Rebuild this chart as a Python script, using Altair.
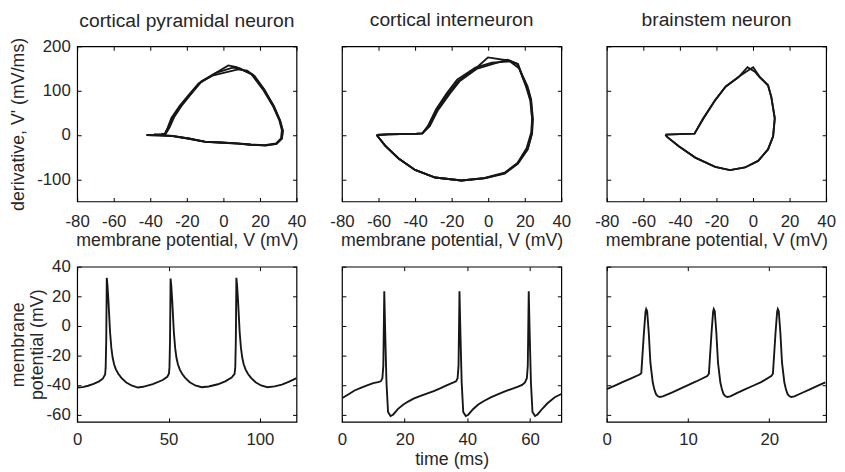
import altair as alt
import pandas as pd

FONT = "Liberation Sans"
TXT = "#262626"
LINE = "#161616"

panel_titles = ["cortical pyramidal neuron", "cortical interneuron", "brainstem neuron"]
phase_x_ticks = [-80, -60, -40, -20, 0, 20, 40]
phase_y_ticks = [-100, 0, 100, 200]
time_y_ticks = [-60, -40, -20, 0, 20, 40]
time_x_ticks = [[0, 50, 100], [0, 20, 40, 60], [0, 10, 20]]
time_x_max = [120, 70, 27]

# ---- phase plots: V (mV) and dV/dt (mV/ms), several overlapping cycles ----
pyr_v_a = [-42, -38, -34, -32, -30, -27.9, -23.4, -18.9, -12.6, -5.4, 2.7, 7.2, 15.3, 21.6, 27, 30.6, 32, 31.5, 28.8, 22.5, 15, 8.1, -1, -9.9, -18.9, -27.9, -35, -42]
pyr_d_a = [0, 0.5, 1.5, 3, 18, 40, 66, 88.5, 118, 137, 157, 153, 137, 103, 66, 33, 10.5, -8, -19, -23, -21.5, -19, -17, -15.5, -8, -2, -0.5, 0]
pyr_v_b = [-42, -38, -34, -31.5, -29.5, -27, -22.5, -18, -12, -4, 5, 9, 16, 22, 27.5, 31, 32.5, 32, 29, 23, 15, 8, -1, -10, -19, -28, -35, -42]
pyr_d_b = [0, 0.5, 1.5, 3, 17, 40, 68, 91, 121, 140, 152, 150, 136, 103, 66, 33, 10, -8, -20, -24, -22, -19.5, -17.5, -15.5, -8.5, -2.5, -0.5, 0]
pyr_v_c = [-42, -38, -34, -32, -30.5, -28.5, -24, -19.5, -13.5, -6, 8, 13, 17, 22.5, 27.5, 31, 32.5, 32, 29, 23, 15, 8, -1, -10, -19, -28, -35, -42]
pyr_d_c = [0, 0.5, 1.5, 3, 16, 38, 65, 88, 117, 134, 148, 145, 133, 102, 65, 32, 10, -8, -20, -23.5, -22, -19.5, -17, -15, -8, -2, -0.5, 0]

int_v_a = [-61, -55, -48, -42, -36, -32.8, -28.2, -21.9, -16.4, -6.4, -0.1, 10.8, 16.3, 20.8, 23, 24.1, 23.9, 21.7, 16.3, 9, -1.9, -14.6, -29.1, -40, -49.1, -56.4, -61]
int_d_a = [0, 1.5, 2, 2, 3.7, 20, 56, 93, 122, 151.6, 175, 168, 160, 108, 78, 34, 5, -31.5, -64.5, -86, -97.4, -102.6, -96, -79, -53, -24, 0]
int_v_b = [-61, -55, -48, -42, -36, -32, -27.5, -21, -15.5, -6, 10.5, 16, 19, 22, 23.5, 24.5, 24, 21.5, 16, 9, -2, -14.6, -29, -40, -49, -56.4, -61]
int_d_b = [0, 1.5, 2, 2, 3.7, 20, 56, 93, 122, 150, 170, 160, 128, 100, 75, 36, 3, -33, -65, -87, -98, -102.6, -96, -79, -53, -24, 0]
int_v_c = [-61, -55, -48, -42, -36, -33, -28.5, -22.5, -17, -7, 2, 12, 17, 21.5, 23.5, 24, 23.5, 21, 16, 9, -2, -14.6, -29, -40, -49, -56.4, -61]
int_d_c = [0, 1.5, 2, 2, 3.7, 20, 58, 95, 125, 152, 163, 166, 150, 110, 80, 34, 5, -30, -63, -85, -97, -102.6, -96, -79, -53, -24, 0]

bs_v_a = [-47.9, -44, -40, -36, -32, -27, -20.7, -14.9, -8, -3, 1, 3.7, 8.2, 10, 11.9, 11, 8.2, 2.8, -4.4, -12.6, -20.7, -31.6, -40.6, -47, -47.9]
bs_d_a = [0.7, 1.5, 2, 2.5, 3, 37.8, 78.5, 109.6, 130, 153, 143, 130, 112, 86, 37.8, -3, -32.6, -58.5, -73.3, -79.3, -71.9, -51, -25.2, -4.4, 0.7]
bs_v_b = [-47.9, -44, -40, -36, -32, -27.5, -21, -15, -8, -4, 0.1, 3.7, 8.2, 10, 11.9, 11, 8.2, 2.8, -4.4, -12.6, -20.7, -31.6, -40.6, -47, -47.9]
bs_d_b = [0.7, 1.5, 2, 2.5, 3, 36, 77, 109, 131, 142, 153, 131, 112, 86, 37.8, -3, -32.6, -58.5, -73.3, -79.3, -71.9, -51, -25.2, -4.4, 0.7]

# ---- membrane potential traces: time (ms), V (mV) ----
pyr_t = [0, 3, 6, 9, 12, 14, 15.3, 15.6, 15.9, 16.2, 16.6, 17.1, 18.0, 18.7, 19.4, 20.2, 21.2, 22.5, 24.2, 26.7, 29.7, 33.2, 36, 41.4, 46.8, 49.3, 50.2, 50.5, 50.8, 51.1, 51.5, 52.0, 52.9, 53.6, 54.3, 55.1, 56.1, 57.4, 59.1, 61.6, 64.6, 68.1, 72, 77, 81, 84.5, 86.1, 86.5, 86.8, 87.1, 87.5, 88.0, 88.9, 89.6, 90.3, 91.1, 92.1, 93.4, 95.1, 97.6, 100.6, 104.1, 108, 112, 116, 120]
pyr_v = [-41.8, -41.5, -40.6, -39.3, -37.6, -35.8, -33, -28, -10, 32.5, 27, 17, -4.4, -15, -21.5, -26, -29.5, -32.5, -35.3, -38.2, -40.4, -41.8, -41.3, -39.5, -36.7, -34.5, -32.5, -28, -10, 32, 27, 17, -4.4, -15, -21.5, -26, -29.5, -32.5, -35.3, -38.2, -40.4, -41.6, -41.1, -39.6, -37.6, -35, -32.5, -28, -10, 32.5, 27, 17, -4.4, -15, -21.5, -26, -29.5, -32.5, -35.3, -38.2, -40.4, -41.6, -41, -39.8, -37.8, -35.5]

int_t = [0, 2, 4, 6, 8, 10, 11.5, 12.4, 12.9, 13.2, 13.5, 13.8, 14.2, 14.7, 15.5, 16.3, 17.9, 19.5, 21.1, 23, 25.3, 27.5, 29.5, 31.5, 33.2, 34.5, 35.8, 36.4, 36.9, 37.2, 37.5, 37.8, 38.2, 38.7, 39.5, 40.3, 41.9, 43.5, 45.3, 47.5, 49.5, 52, 54.7, 56.2, 57.5, 58.4, 59.0, 59.3, 59.6, 59.9, 60.3, 60.8, 61.6, 62.4, 64, 65.5, 67.9, 70]
int_v = [-49.1, -46.5, -43.8, -42.1, -40.3, -38.8, -38.2, -37.6, -35.5, -27, 23.3, -5, -38.4, -58.4, -61.1, -60.2, -56.2, -53.5, -51.3, -49.2, -47.3, -45.6, -44, -42.2, -40.5, -39.3, -38.2, -37.6, -35.5, -27, 23.3, -5, -38.4, -58.4, -61.1, -60.2, -56.3, -53.3, -50.9, -48.5, -46.6, -44.4, -42.3, -41.2, -40, -38.3, -35.5, -27, 23.3, -5, -38.4, -58.4, -61.1, -60, -56, -52.6, -48.4, -46.2]

bs_t = [0, 1, 2, 3, 4.05, 4.25, 4.57, 4.77, 4.85, 4.97, 5.17, 5.37, 5.66, 5.86, 6.06, 6.26, 6.5, 6.9, 8, 9, 10, 11, 12.37, 12.57, 12.89, 13.09, 13.17, 13.29, 13.49, 13.69, 13.98, 14.18, 14.38, 14.58, 14.82, 15.2, 16, 17, 18, 19, 20.25, 20.45, 20.77, 20.97, 21.05, 21.17, 21.37, 21.57, 21.86, 22.06, 22.26, 22.46, 22.7, 23.1, 24, 25, 26, 26.9]
bs_v = [-42.9, -40.5, -38, -35.6, -33, -32, -4.9, 9.6, 11.3, 9.8, -4.9, -25, -38.4, -43.2, -46.3, -47.6, -48.2, -47.8, -45.2, -42.7, -40.2, -37.7, -34, -32.5, -4.9, 9.6, 11.3, 9.8, -4.9, -25, -38.4, -43.2, -46.3, -47.6, -48.2, -47.8, -45.6, -43.1, -40.6, -38.1, -34, -32.5, -4.9, 9.6, 11.3, 9.8, -4.9, -25, -38.4, -43.2, -46.3, -47.6, -48.2, -47.8, -45.5, -43, -40.5, -38.3]


def make_df(loops, xname, yname):
    rows = []
    for k, (xs, ys) in enumerate(loops):
        assert len(xs) == len(ys)
        for i, (a, b) in enumerate(zip(xs, ys)):
            rows.append({"loop": k, "i": i, xname: a, yname: b})
    return pd.DataFrame(rows)


phase_dfs = [
    make_df([(pyr_v_a, pyr_d_a), (pyr_v_b, pyr_d_b), (pyr_v_c, pyr_d_c)], "V", "dV"),
    make_df([(int_v_a, int_d_a), (int_v_b, int_d_b), (int_v_c, int_d_c)], "V", "dV"),
    make_df([(bs_v_a, bs_d_a), (bs_v_b, bs_d_b)], "V", "dV"),
]
trace_dfs = [
    make_df([(pyr_t, pyr_v)], "t", "V"),
    make_df([(int_t, int_v)], "t", "V"),
    make_df([(bs_t, bs_v)], "t", "V"),
]

W, H = 222, 157
MINUS_FIX = "replace(datum.label, '\u2212', '-')"

common_axis = dict(domain=False, grid=False, tickSize=4, offset=-4, tickColor="black",
                   tickWidth=1, labelFont=FONT, labelFontSize=17, labelColor=TXT,
                   titleFont=FONT, titleFontSize=18, titleFontWeight="normal", titleColor=TXT,
                   titleLineHeight=19)


def panel(df, xf, yf, xdom, ydom, xticks, yticks, xtitle, ytitle, ylabels, title, title_offset,
          xlabpad, xtitlepad, ytitlepad):
    xs = alt.Scale(domain=xdom, nice=False, zero=False)
    ys = alt.Scale(domain=ydom, nice=False, zero=False)
    xa = alt.Axis(orient="bottom", values=xticks, labelPadding=xlabpad, titlePadding=xtitlepad,
                  labelFlush=False, labelOverlap=False, labelExpr=MINUS_FIX, **common_axis)
    ya = alt.Axis(orient="left", values=yticks, labels=ylabels, labelPadding=7, titlePadding=ytitlepad,
                  labelOverlap=False, labelExpr=MINUS_FIX, **common_axis)
    xa2 = alt.Axis(orient="top", values=xticks, labels=False, **common_axis)
    ya2 = alt.Axis(orient="right", values=yticks, labels=False, **common_axis)
    main = alt.Chart(df).mark_line(color=LINE, strokeWidth=1.9, clip=True).encode(
        x=alt.X(f"{xf}:Q", scale=xs, axis=xa, title=xtitle),
        y=alt.Y(f"{yf}:Q", scale=ys, axis=ya, title=ytitle),
        detail="loop:N",
        order="i:Q",
    )
    frame = alt.Chart(df).mark_line(strokeOpacity=0).encode(
        x=alt.X(f"{xf}:Q", scale=xs, axis=xa2, title=None),
        y=alt.Y(f"{yf}:Q", scale=ys, axis=ya2, title=None),
        detail="loop:N",
        order="i:Q",
    )
    ch = alt.layer(main, frame).resolve_axis(x="independent", y="independent").properties(width=W, height=H)
    if title:
        ch = ch.properties(title=alt.TitleParams(title, font=FONT, fontSize=19.5, fontWeight="normal",
                                                 color=TXT, anchor="middle", baseline="alphabetic",
                                                 frame="group", offset=title_offset))
    return ch


panels = []
for k in range(3):
    panels.append(panel(phase_dfs[k], "V", "dV", [-80, 40], [-150, 200], phase_x_ticks, phase_y_ticks,
                        "membrane potential, V (mV)",
                        "derivative, V' (mV/ms)" if k == 0 else None,
                        k == 0, panel_titles[k], -9 if k == 0 else 1, 12, 2.5, 9))
for k in range(3):
    panels.append(panel(trace_dfs[k], "t", "V", [0, time_x_max[k]], [-65, 40], time_x_ticks[k], time_y_ticks,
                        "time (ms)" if k == 1 else None,
                        ["membrane", "potential (mV)"] if k == 0 else None,
                        k == 0, None, 0, 10, 3, 0))

chart = alt.concat(*panels, columns=3, spacing=alt.RowColnumber(row=66, column=46), bounds="flush").configure_view(
    stroke="black", strokeWidth=1.2
).properties(padding={"left": 0, "top": -2, "right": 0, "bottom": 0}, background="white")

chart.save("out.html", embed_options={"renderer": "svg", "actions": False})
